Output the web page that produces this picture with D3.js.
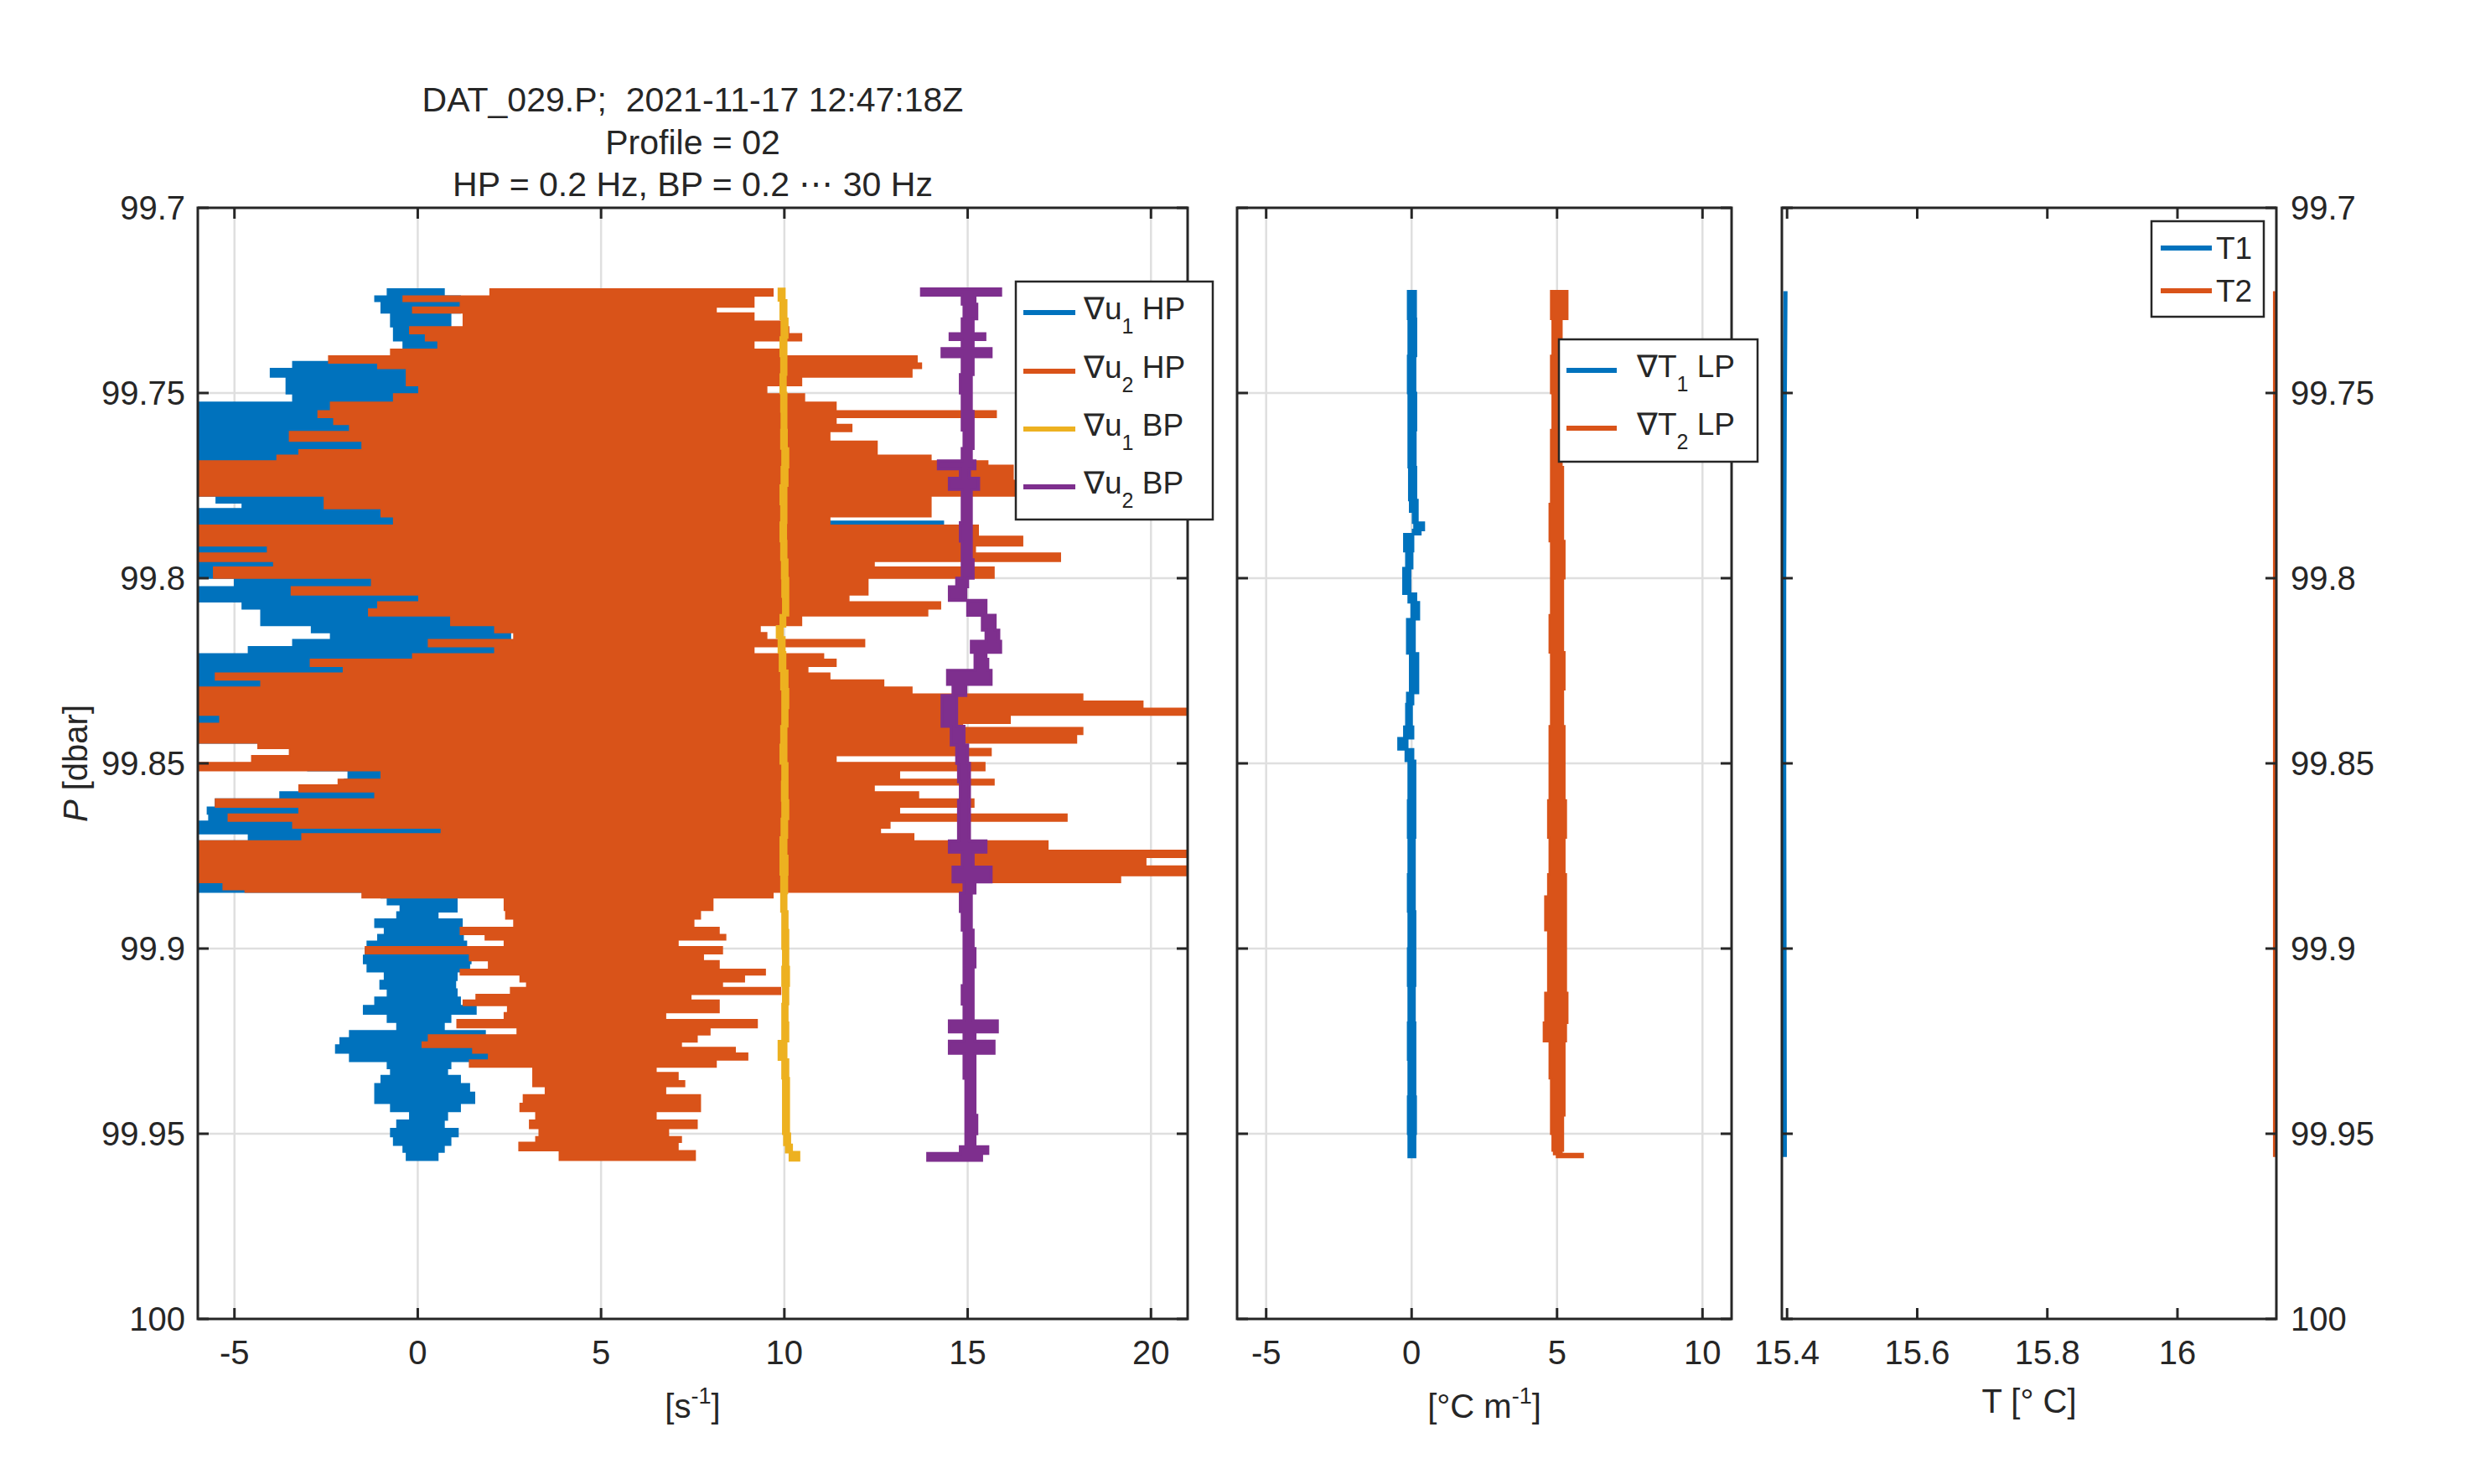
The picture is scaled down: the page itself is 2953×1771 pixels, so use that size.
<!DOCTYPE html>
<html><head><meta charset="utf-8">
<script src="https://cdn.jsdelivr.net/npm/d3@7"></script>
<style>
body{margin:0;background:#fff}
svg{display:block}
text{font-family:"Liberation Sans",Arial,Helvetica,sans-serif;fill:#262626;white-space:pre}
</style>
</head><body>
<svg id="chart" width="2953" height="1771"></svg>
<script>
// ---------------- DATA ----------------
const titleLines = ["DAT_029.P;  2021-11-17 12:47:18Z", "Profile = 02", "HP = 0.2 Hz, BP = 0.2 \u22EF 30 Hz"];
const pressureTicks = [99.7, 99.75, 99.8, 99.85, 99.9, 99.95, 100];
const pressureTickLabels = ["99.7", "99.75", "99.8", "99.85", "99.9", "99.95", "100"];
const shearTicks = [-5, 0, 5, 10, 15, 20];
const gradTTicks = [-5, 0, 5, 10];
const tempTicks = [15.4, 15.6, 15.8, 16];
const tempTickLabels = ["15.4", "15.6", "15.8", "16"];

const shearLegend = [["\u2207u", "1", " HP"], ["\u2207u", "2", " HP"], ["\u2207u", "1", " BP"], ["\u2207u", "2", " BP"]];
const gradTLegend = [["\u2207T", "1", " LP"], ["\u2207T", "2", " LP"]];
const tempLegend = ["T1", "T2"];

// envelopes: [pressure (dbar), min, max] — each row holds until the next row
const du1HP = [
[99.7219,-0.83,0.72],[99.7238,-1.17,1.16],[99.7253,-1.00,1.16],[99.7284,-0.74,0.90],[99.7321,-0.66,0.72],
[99.7359,-0.40,0.55],[99.7382,-0.31,0.50],[99.7400,-1.69,1.00],[99.7415,-3.41,1.00],[99.7434,-4.02,1.00],
[99.7457,-3.59,1.00],[99.7502,-3.41,1.50],[99.7525,-6,1.50],[99.7778,-5.5,1.50],[99.7797,-4.79,1.50],
[99.7812,-6,2.50],[99.7846,-6,14.34],[99.7857,-6,2.00],[99.8000,-5.0,2.00],[99.8023,-6,0.90],
[99.8045,-6,0.50],[99.8064,-4.79,0.50],[99.8083,-4.28,0.50],[99.8102,-4.28,1.16],[99.8128,-2.90,2.50],
[99.8147,-2.38,2.53],[99.8166,-3.41,2.10],[99.8185,-4.62,2.10],[99.8204,-6,1.00],[99.8445,-3.0,0.50],
[99.8520,-1.90,0.50],[99.8543,-2.00,0.50],[99.8577,-3.76,0.50],[99.8596,-5.52,0.50],[99.8618,-5.74,0.50],
[99.8637,-5.70,0.50],[99.8656,-6,0.64],[99.8690,-4.62,0.80],[99.8709,-6,1.00],[99.8848,-1.00,1.00],
[99.8863,-0.83,1.07],[99.8882,-0.48,1.07],[99.8901,-0.57,0.55],[99.8920,-1.17,1.21],[99.8943,-0.91,1.24],
[99.8962,-1.09,1.24],[99.8980,-1.38,1.33],[99.8999,-1.43,1.41],[99.9018,-1.48,1.45],[99.9041,-1.38,1.41],
[99.9063,-0.91,1.07],[99.9086,-1.03,1.03],[99.9109,-0.83,1.07],[99.9131,-1.17,1.16],[99.9154,-1.48,1.59],
[99.9177,-0.83,0.90],[99.9199,-0.57,0.72],[99.9222,-1.86,1.84],[99.9241,-2.12,1.84],[99.9260,-2.24,1.59],
[99.9282,-1.86,1.93],[99.9305,-0.83,0.90],[99.9324,-0.74,0.81],[99.9343,-1.00,1.16],[99.9365,-1.17,1.41],
[99.9388,-1.17,1.55],[99.9418,-0.74,1.16],[99.9440,-0.22,0.81],[99.9463,-0.57,0.72],[99.9486,-0.74,1.10],
[99.9508,-0.66,0.90],[99.9531,-0.40,0.72],[99.9550,-0.31,0.55]
];
const du1HPEnd = 99.9572;

const du2HP = [
[99.7219,1.97,9.69],[99.7238,-0.40,9.17],[99.7253,1.16,9.17],[99.7268,-0.14,8.14],[99.7284,1.24,9.17],
[99.7306,1.24,10.03],[99.7321,-0.22,10.12],[99.7340,0.21,10.47],[99.7359,0.55,9.17],[99.7382,-0.74,10.03],
[99.7400,-2.43,13.62],[99.7419,-1.09,13.74],[99.7434,-0.31,13.48],[99.7457,-0.31,10.47],[99.7480,0.03,9.52],
[99.7502,-0.66,10.55],[99.7525,-2.38,11.41],[99.7548,-2.72,15.78],[99.7566,-2.29,11.41],[99.7585,-1.86,11.84],
[99.7604,-3.50,11.24],[99.7630,-1.52,12.53],[99.7653,-3.24,12.53],[99.7668,-3.84,14.00],[99.7683,-6,15.55],
[99.7695,-6,16.24],[99.7736,-6,17.5],[99.7778,-2.55,14.00],[99.7812,-1.00,14.00],[99.7834,-0.66,11.24],
[99.7857,-6,15.29],[99.7887,-6,16.50],[99.7913,-4.10,15.21],[99.7932,-6,17.53],[99.7955,-3.93,12.45],
[99.7970,-5.57,15.72],[99.8000,-1.26,12.28],[99.8023,-3.45,12.28],[99.8045,0.03,11.76],[99.8064,-1.09,14.26],
[99.8083,-1.34,13.91],[99.8102,0.90,10.47],[99.8128,2.10,9.34],[99.8147,2.62,9.52],[99.8166,0.29,12.19],
[99.8185,2.10,9.17],[99.8204,-0.14,11.07],[99.8219,-2.93,11.41],[99.8238,-2.03,10.64],[99.8256,-5.52,11.24],
[99.8275,-4.28,12.71],[99.8294,-6,13.48],[99.8313,-6,18.14],[99.8332,-6,19.78],[99.8351,-6,21.03],
[99.8370,-5.40,16.16],[99.8392,-6,14.86],[99.8403,-6,18.14],[99.8422,-6,17.97],[99.8445,-4.36,14.69],
[99.8460,-3.50,15.64],[99.8479,-4.53,11.41],[99.8498,-6,15.47],[99.8520,-1.00,13.14],[99.8543,-2.17,15.72],
[99.8558,-3.24,12.45],[99.8577,-1.17,13.66],[99.8596,-5.52,15.17],[99.8618,-3.24,13.14],[99.8637,-5.17,17.71],
[99.8656,-3.41,12.88],[99.8675,0.64,12.62],[99.8690,-3.16,13.53],[99.8709,-6,17.19],[99.8735,-6,21.03],
[99.8754,-6,19.86],[99.8777,-6,21.03],[99.8803,-6,19.17],[99.8822,-5.31,14.86],[99.8841,-4.71,14.86],
[99.8848,-1.52,9.69],[99.8863,2.36,8.05],[99.8897,2.40,7.71],[99.8920,2.62,7.53],[99.8943,1.16,8.22],
[99.8962,1.84,8.40],[99.8977,2.36,7.10],[99.8995,-1.43,8.31],[99.9014,1.41,7.79],[99.9033,1.93,8.22],
[99.9056,1.16,9.48],[99.9071,2.79,8.91],[99.9090,2.97,8.31],[99.9105,2.53,9.90],[99.9124,1.59,7.45],
[99.9139,1.24,8.22],[99.9154,2.45,8.22],[99.9173,2.36,6.76],[99.9192,1.07,9.26],[99.9214,2.71,7.97],
[99.9233,0.29,7.62],[99.9252,0.12,7.19],[99.9267,1.50,8.66],[99.9282,1.93,9.00],[99.9301,1.41,8.14],
[99.9320,3.14,6.50],[99.9335,3.14,7.10],[99.9357,3.14,7.28],[99.9373,3.48,6.76],[99.9395,2.88,7.71],
[99.9418,2.79,7.71],[99.9440,3.22,6.50],[99.9463,3.05,7.62],[99.9486,3.31,6.84],[99.9508,3.22,7.19],
[99.9523,2.76,7.10],[99.9546,3.86,7.57]
];
const du2HPEnd = 99.9572;

const du1BP = [
[99.7219,9.85,10.00],[99.7250,9.90,10.05],[99.7300,9.93,10.08],[99.7350,9.90,10.05],[99.7400,9.92,10.05],
[99.7450,9.90,10.03],[99.7500,9.92,10.05],[99.7550,9.93,10.05],[99.7600,9.92,10.06],[99.7650,9.95,10.10],
[99.7700,9.93,10.08],[99.7750,9.90,10.05],[99.7800,9.92,10.05],[99.7850,9.90,10.04],[99.7900,9.92,10.05],
[99.7950,9.94,10.08],[99.8000,9.95,10.10],[99.8050,9.97,10.10],[99.8100,9.90,10.02],[99.8130,9.80,9.95],
[99.8160,9.85,10.00],[99.8200,9.88,10.02],[99.8250,9.92,10.08],[99.8300,9.95,10.10],[99.8350,9.95,10.08],
[99.8400,9.92,10.05],[99.8450,9.90,10.05],[99.8500,9.95,10.08],[99.8550,9.94,10.08],[99.8600,9.95,10.10],
[99.8650,9.93,10.07],[99.8700,9.90,10.05],[99.8750,9.90,10.08],[99.8800,9.92,10.07],[99.8850,9.92,10.05],
[99.8900,9.95,10.08],[99.8950,9.95,10.10],[99.9000,9.97,10.10],[99.9050,9.95,10.12],[99.9100,9.97,10.10],
[99.9150,9.95,10.08],[99.9200,9.95,10.10],[99.9250,9.85,10.05],[99.9300,9.95,10.10],[99.9350,9.97,10.12],
[99.9400,9.97,10.12],[99.9450,9.97,10.12],[99.9500,10.00,10.15],[99.9530,10.05,10.20],[99.9550,10.15,10.40]
];
const du1BPEnd = 99.9572;

const du2BP = [
[99.7219,13.74,15.90],[99.7236,14.85,15.20],[99.7260,14.90,15.25],[99.7300,14.85,15.15],[99.7340,14.52,15.47],
[99.7356,14.85,15.15],[99.7380,14.30,15.64],[99.7402,14.85,15.15],[99.7450,14.80,15.10],[99.7500,14.85,15.10],
[99.7550,14.85,15.15],[99.7600,14.90,15.15],[99.7650,14.85,15.10],[99.7683,14.20,15.20],[99.7705,14.80,15.05],
[99.7730,14.50,15.30],[99.7760,14.85,15.10],[99.7800,14.85,15.10],[99.7850,14.80,15.10],[99.7900,14.85,15.10],
[99.7950,14.85,15.15],[99.8000,14.70,15.00],[99.8023,14.50,14.95],[99.8060,15.00,15.50],[99.8100,15.40,15.75],
[99.8140,15.50,15.85],[99.8170,15.10,15.90],[99.8200,15.20,15.50],[99.8219,15.20,15.55],[99.8249,14.45,15.64],
[99.8287,14.60,14.95],[99.8317,14.30,14.70],[99.8400,14.55,14.90],[99.8450,14.70,15.00],[99.8500,14.75,15.05],
[99.8550,14.80,15.05],[99.8600,14.75,15.05],[99.8650,14.75,15.05],[99.8709,14.50,15.50],[99.8740,14.85,15.15],
[99.8780,14.60,15.64],[99.8820,14.90,15.20],[99.8850,14.80,15.10],[99.8900,14.85,15.10],[99.8950,14.90,15.15],
[99.9000,14.90,15.20],[99.9050,14.90,15.15],[99.9100,14.85,15.15],[99.9150,14.90,15.15],[99.9195,14.50,15.81],
[99.9225,14.90,15.20],[99.9250,14.50,15.72],[99.9283,14.90,15.20],[99.9350,14.95,15.20],[99.9400,14.95,15.20],
[99.9450,14.95,15.25],[99.9500,14.95,15.20],[99.9535,14.80,15.55],[99.9553,13.91,15.38]
];
const du2BPEnd = 99.9572;

const gradT1 = [
[99.7225,-0.12,0.14],[99.7300,-0.10,0.15],[99.7400,-0.12,0.12],[99.7500,-0.10,0.15],[99.7600,-0.10,0.13],
[99.7700,-0.08,0.15],[99.7789,-0.05,0.20],[99.7820,0.05,0.20],[99.7850,0.10,0.42],[99.7870,0.05,0.30],
[99.7881,-0.25,0.05],[99.7927,-0.18,0.02],[99.7973,-0.28,-0.05],[99.8042,-0.10,0.15],[99.8065,0.00,0.25],
[99.8111,-0.15,0.10],[99.8203,-0.05,0.22],[99.8310,-0.15,0.05],[99.8340,-0.18,0.00],[99.8401,-0.25,0.05],
[99.8432,-0.45,-0.15],[99.8462,-0.20,0.05],[99.8493,-0.10,0.12],[99.8600,-0.12,0.12],[99.8700,-0.10,0.10],
[99.8800,-0.12,0.10],[99.8900,-0.10,0.12],[99.9000,-0.12,0.12],[99.9100,-0.10,0.10],[99.9200,-0.12,0.12],
[99.9300,-0.10,0.12],[99.9400,-0.12,0.14],[99.9500,-0.10,0.12]
];
const gradT1End = 99.9563;

const gradT2 = [
[99.7225,4.80,5.35],[99.7300,4.85,5.15],[99.7400,4.80,5.15],[99.7500,4.85,5.10],[99.7600,4.80,5.15],
[99.7700,4.80,5.20],[99.7800,4.75,5.20],[99.7900,4.80,5.25],[99.8000,4.80,5.20],[99.8100,4.75,5.20],
[99.8200,4.80,5.25],[99.8300,4.80,5.20],[99.8400,4.75,5.25],[99.8500,4.75,5.25],[99.8600,4.70,5.30],
[99.8700,4.75,5.25],[99.8800,4.70,5.30],[99.8860,4.60,5.30],[99.8950,4.70,5.30],[99.9050,4.70,5.30],
[99.9120,4.60,5.35],[99.9200,4.55,5.30],[99.9250,4.75,5.25],[99.9350,4.80,5.25],[99.9450,4.80,5.20],
[99.9500,4.85,5.20],[99.9545,4.90,5.15],[99.9555,5.00,5.88]
];
const gradT2End = 99.9563;

// temperature profiles: [pressure, T]
const temp1 = [[99.7225,15.3975],[99.7500,15.3965],[99.8000,15.3955],[99.8500,15.3955],[99.9000,15.3960],[99.9563,15.3965]];
const temp2 = [[99.7225,16.1500],[99.7500,16.1500],[99.8000,16.1500],[99.8500,16.1500],[99.9000,16.1500],[99.9563,16.1500]];

// ---------------- DRAWING ----------------
const C = {blue:"#0072BD", orange:"#D95319", yellow:"#EDB120", purple:"#7E2F8E", axis:"#262626", grid:"#dfdfdf"};
const svg = d3.select("#chart");
const yTop = 248, yBot = 1574;
const y = d3.scaleLinear().domain([99.7, 100]).range([yTop, yBot]);
const FS = 40, TL = 13;

const panels = [
  {l:236, r:1417, dom:[-6,21], ticks:shearTicks, labels:shearTicks.map(String), grid:true},
  {l:1476, r:2066, dom:[-6,11], ticks:gradTTicks, labels:gradTTicks.map(String), grid:true},
  {l:2126, r:2716, dom:[15.392,16.152], ticks:tempTicks, labels:tempTickLabels, grid:false}
];
panels.forEach((P,i) => { P.x = d3.scaleLinear().domain(P.dom).range([P.l, P.r]); P.id = i; });

const defs = svg.append("defs");
panels.forEach(P => {
  defs.append("clipPath").attr("id","clip"+P.id).append("rect")
    .attr("x",P.l).attr("y",yTop).attr("width",P.r-P.l).attr("height",yBot-yTop);
});

function drawGrid(P){
  const g = svg.append("g");
  if(!P.grid) return;
  P.ticks.forEach(t => g.append("line").attr("x1",P.x(t)).attr("x2",P.x(t)).attr("y1",yTop).attr("y2",yBot)
    .attr("stroke",C.grid).attr("stroke-width",2.5));
  pressureTicks.slice(1,-1).forEach(t => g.append("line").attr("x1",P.l).attr("x2",P.r).attr("y1",y(t)).attr("y2",y(t))
    .attr("stroke",C.grid).attr("stroke-width",2.5));
}

function envelope(P, rows, end, color, sw){
  const d = rows.map(r => ({p:r[0], lo:r[1], hi:r[2]}));
  const last = d[d.length-1];
  d.push({p:end, lo:last.lo, hi:last.hi});
  const area = d3.area().y(v => y(v.p)).x0(v => P.x(v.lo)).x1(v => P.x(v.hi)).curve(d3.curveStepBefore);
  svg.append("path").attr("d", area(d)).attr("clip-path","url(#clip"+P.id+")")
    .attr("fill", color).attr("stroke", color).attr("stroke-width", sw).attr("stroke-linejoin","miter");
}

function profileLine(P, rows, color, sw){
  const line = d3.line().x(r => P.x(r[1])).y(r => y(r[0]));
  svg.append("path").attr("d", line(rows)).attr("fill","none").attr("stroke",color).attr("stroke-width",sw);
}

function drawAxes(P, yLabels){
  const g = svg.append("g");
  g.append("rect").attr("x",P.l).attr("y",yTop).attr("width",P.r-P.l).attr("height",yBot-yTop)
    .attr("fill","none").attr("stroke",C.axis).attr("stroke-width",3);
  P.ticks.forEach((t,i) => {
    const xx = P.x(t);
    g.append("line").attr("x1",xx).attr("x2",xx).attr("y1",yBot).attr("y2",yBot-TL).attr("stroke",C.axis).attr("stroke-width",3);
    g.append("line").attr("x1",xx).attr("x2",xx).attr("y1",yTop).attr("y2",yTop+TL).attr("stroke",C.axis).attr("stroke-width",3);
    g.append("text").attr("x",xx).attr("y",1628).attr("text-anchor","middle").attr("font-size",FS).text(P.labels[i]);
  });
  pressureTicks.forEach((t,i) => {
    const yy = y(t);
    g.append("line").attr("x1",P.l).attr("x2",P.l+TL).attr("y1",yy).attr("y2",yy).attr("stroke",C.axis).attr("stroke-width",3);
    g.append("line").attr("x1",P.r).attr("x2",P.r-TL).attr("y1",yy).attr("y2",yy).attr("stroke",C.axis).attr("stroke-width",3);
    if(yLabels === "left")
      g.append("text").attr("x",P.l-15).attr("y",yy+14).attr("text-anchor","end").attr("font-size",FS).text(pressureTickLabels[i]);
    if(yLabels === "right")
      g.append("text").attr("x",P.r+17).attr("y",yy+14).attr("text-anchor","start").attr("font-size",FS).text(pressureTickLabels[i]);
  });
}

function legend(box, lineX0, lineX1, textX, rowsY, baseOff, labels, colors, withSub){
  const g = svg.append("g");
  g.append("rect").attr("x",box[0]).attr("y",box[1]).attr("width",box[2]-box[0]).attr("height",box[3]-box[1])
    .attr("fill","#fff").attr("stroke",C.axis).attr("stroke-width",2.5);
  labels.forEach((lab,i) => {
    const yy = rowsY[i];
    g.append("line").attr("x1",lineX0).attr("x2",lineX1).attr("y1",yy).attr("y2",yy).attr("stroke",colors[i]).attr("stroke-width",6);
    const t = g.append("text").attr("x",textX).attr("y",yy+baseOff).attr("font-size",37);
    if(withSub){
      t.append("tspan").text(lab[0]);
      t.append("tspan").attr("font-size",25).attr("dy",17).text(lab[1]);
      t.append("tspan").attr("dy",-17).text(lab[2]);
    } else t.text(lab);
  });
}

// grids
panels.forEach(drawGrid);

// panel 1 data
const P1 = panels[0], P2 = panels[1], P3 = panels[2];
envelope(P1, du1HP, du1HPEnd, C.blue, 1.5);
envelope(P1, du2HP, du2HPEnd, C.orange, 1.5);
envelope(P1, du1BP, du1BPEnd, C.yellow, 3);
envelope(P1, du2BP, du2BPEnd, C.purple, 3.5);

// panel 2 data
envelope(P2, gradT1, gradT1End, C.blue, 3);
envelope(P2, gradT2, gradT2End, C.orange, 3);

// panel 3 data
profileLine(P3, temp1, C.blue, 5);
profileLine(P3, temp2, C.orange, 5);

// axes
drawAxes(P1, "left");
drawAxes(P2, "none");
drawAxes(P3, "right");

// legends
legend([1212,336,1447,620], 1221, 1283, 1293, [373,443,512,581], 8, shearLegend, [C.blue,C.orange,C.yellow,C.purple], true);
legend([1860,405,2097,551], 1869, 1929, 1953, [442,511], 8, gradTLegend, [C.blue,C.orange], true);
legend([2567,264,2701,378], 2578, 2639, 2644, [296,347], 13, tempLegend, [C.blue,C.orange], false);

// title
const titleX = (P1.l + P1.r)/2;
[133,184,234].forEach((yy,i) => svg.append("text").attr("x",titleX).attr("y",yy).attr("text-anchor","middle")
  .attr("font-size",41).text(titleLines[i]));

// x labels
function supLabel(x, yy, pre, sup, post){
  const t = svg.append("text").attr("x",x).attr("y",yy).attr("text-anchor","middle").attr("font-size",FS);
  t.append("tspan").text(pre);
  t.append("tspan").attr("font-size",27).attr("dy",-17).text(sup);
  t.append("tspan").attr("dy",17).text(post);
}
supLabel((P1.l+P1.r)/2, 1692, "[s", "-1", "]");
supLabel((P2.l+P2.r)/2, 1692, "[\u00B0C m", "-1", "]");
svg.append("text").attr("x",(P3.l+P3.r)/2).attr("y",1686).attr("text-anchor","middle").attr("font-size",FS).text("T [\u00B0 C]");

// y label
const yl = svg.append("text").attr("transform","translate(104," + ((yTop+yBot)/2) + ") rotate(-90)")
  .attr("text-anchor","middle").attr("font-size",FS);
yl.append("tspan").attr("font-style","italic").text("P");
yl.append("tspan").text(" [dbar]");
</script>
</body></html>
